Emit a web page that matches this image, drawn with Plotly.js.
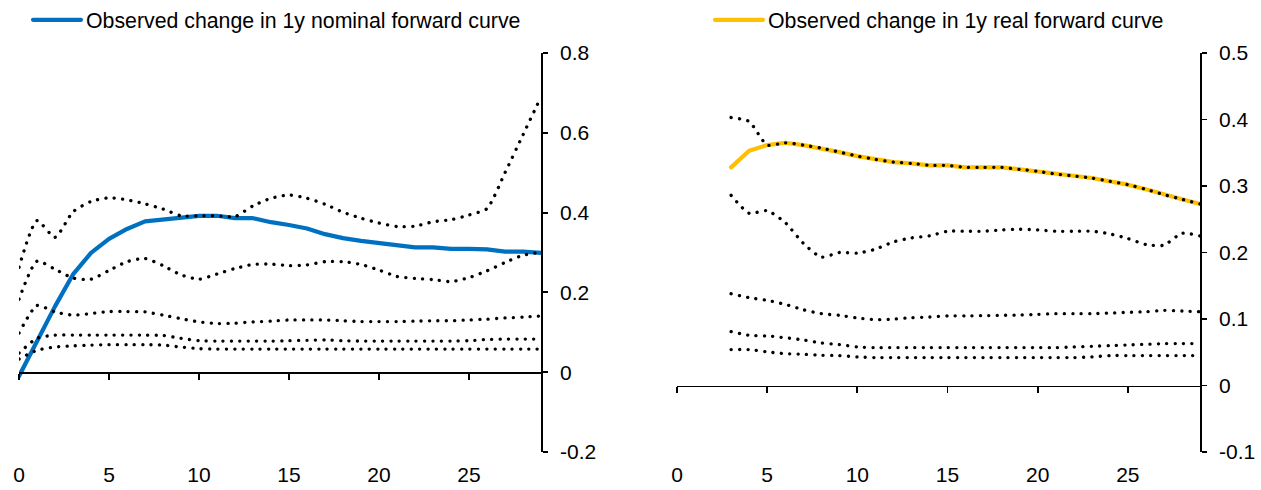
<!DOCTYPE html>
<html>
<head>
<meta charset="utf-8">
<script src="https://cdn.plot.ly/plotly-3.0.1.min.js"></script>
<style>
html,body{margin:0;padding:0;background:#fff;}
#chart{width:1261px;height:490px;}
path.js-line{stroke-linecap:round;stroke-linejoin:round;}
</style>
</head>
<body>
<div id="chart"></div>
<script>
// ---- Left panel: nominal forward curve (maturity 0..29) ----
const nomMaturity = [0,1,2,3,4,5,6,7,8,9,10,11,12,13,14,15,16,17,18,19,20,21,22,23,24,25,26,27,28,29];
const nomObserved = [-0.01,0.078,0.165,0.245,0.299,0.334,0.359,0.378,0.383,0.388,0.392,0.392,0.386,0.386,0.376,0.369,0.36,0.346,0.336,0.329,0.323,0.319,0.313,0.313,0.309,0.309,0.308,0.302,0.302,0.299];
const nomBand1 = [0.263,0.38,0.338,0.402,0.428,0.437,0.432,0.422,0.409,0.392,0.392,0.392,0.39,0.417,0.436,0.444,0.436,0.421,0.401,0.386,0.374,0.365,0.366,0.377,0.382,0.394,0.41,0.5,0.595,0.69];
const nomBand2 = [0.183,0.278,0.258,0.236,0.233,0.255,0.277,0.285,0.267,0.244,0.233,0.246,0.26,0.27,0.271,0.267,0.269,0.277,0.277,0.27,0.256,0.24,0.235,0.232,0.227,0.237,0.254,0.275,0.293,0.301];
const nomBand3 = [0.098,0.167,0.151,0.143,0.147,0.152,0.152,0.151,0.143,0.134,0.126,0.122,0.123,0.126,0.128,0.131,0.131,0.131,0.129,0.127,0.127,0.127,0.128,0.129,0.129,0.131,0.133,0.136,0.138,0.141];
const nomBand4 = [0.048,0.085,0.093,0.093,0.093,0.093,0.093,0.093,0.092,0.085,0.079,0.078,0.078,0.078,0.078,0.079,0.08,0.081,0.079,0.078,0.078,0.078,0.078,0.078,0.078,0.079,0.082,0.083,0.083,0.083];
const nomBand5 = [0.033,0.055,0.063,0.066,0.068,0.069,0.069,0.069,0.068,0.063,0.059,0.058,0.058,0.058,0.058,0.058,0.058,0.058,0.058,0.058,0.058,0.058,0.058,0.058,0.058,0.058,0.058,0.058,0.058,0.058];

// ---- Right panel: real forward curve (maturity 3..29) ----
const realMaturity = [3,4,5,6,7,8,9,10,11,12,13,14,15,16,17,18,19,20,21,22,23,24,25,26,27,28,29];
const realObserved = [0.328,0.353,0.3615,0.365,0.3615,0.357,0.351,0.345,0.340,0.336,0.334,0.331,0.331,0.328,0.328,0.328,0.325,0.322,0.318,0.315,0.312,0.307,0.302,0.295,0.287,0.280,0.273];
const realBand1 = [0.403,0.397,0.3615,0.365,0.3615,0.357,0.351,0.345,0.340,0.336,0.334,0.331,0.331,0.328,0.328,0.328,0.325,0.322,0.318,0.315,0.312,0.307,0.302,0.295,0.287,0.280,0.273];
const realBand2 = [0.286,0.259,0.263,0.245,0.214,0.193,0.2,0.199,0.205,0.216,0.222,0.225,0.232,0.232,0.232,0.234,0.235,0.234,0.232,0.232,0.232,0.228,0.221,0.212,0.211,0.229,0.225];
const realBand3 = [0.138,0.132,0.128,0.122,0.114,0.108,0.1055,0.1015,0.099,0.0998,0.102,0.103,0.1047,0.1047,0.105,0.1055,0.106,0.107,0.108,0.108,0.108,0.109,0.11,0.111,0.113,0.112,0.111];
const realBand4 = [0.081,0.0755,0.0745,0.0718,0.0685,0.064,0.0615,0.058,0.057,0.057,0.057,0.057,0.057,0.057,0.057,0.057,0.057,0.057,0.057,0.058,0.059,0.06,0.061,0.062,0.063,0.063,0.063];
const realBand5 = [0.054,0.054,0.0505,0.048,0.047,0.0455,0.045,0.043,0.042,0.042,0.042,0.042,0.042,0.042,0.042,0.042,0.042,0.042,0.042,0.042,0.043,0.045,0.045,0.045,0.045,0.045,0.045];

// ---- Tick labels ----
const xTickVals = [0,5,10,15,20,25];
const xTickText = ['0','5','10','15','20','25'];
const nomYTickVals = [-0.2,0,0.2,0.4,0.6,0.8];
const nomYTickText = ['-0.2','0','0.2','0.4','0.6','0.8'];
const realYTickVals = [-0.1,0,0.1,0.2,0.3,0.4,0.5];
const realYTickText = ['-0.1','0','0.1','0.2','0.3','0.4','0.5'];

const nomName = 'Observed change in 1y nominal forward curve';
const realName = 'Observed change in 1y real forward curve';

const FONT = 'Liberation Sans, Arial, sans-serif';
const FS = 21;
const LFS = 21.3;
const dotLine = {color:'#000', width:3.3, dash:'0.1px,8.3px', shape:'spline', smoothing:0.6};

function band(x, y, xa, ya){
  return {x:x, y:y, xaxis:xa, yaxis:ya, type:'scatter', mode:'lines', line:dotLine, showlegend:false, hoverinfo:'skip'};
}
// empty carrier traces so the zero-crossing axes get a subplot and are drawn
function carrier(xa, ya){
  return {x:[], y:[], xaxis:xa, yaxis:ya, type:'scatter', mode:'lines', showlegend:false, hoverinfo:'skip'};
}

const traces = [
  {x:nomMaturity, y:nomObserved, xaxis:'x', yaxis:'y', type:'scatter', mode:'lines', name:nomName,
   line:{color:'#0070C0', width:4.2}, legend:'legend'},
  band(nomMaturity, nomBand1, 'x', 'y'),
  band(nomMaturity, nomBand2, 'x', 'y'),
  band(nomMaturity, nomBand3, 'x', 'y'),
  band(nomMaturity, nomBand4, 'x', 'y'),
  band(nomMaturity, nomBand5, 'x', 'y'),
  {x:realMaturity, y:realObserved, xaxis:'x2', yaxis:'y2', type:'scatter', mode:'lines', name:realName,
   line:{color:'#FFC000', width:4.2}, legend:'legend2'},
  band(realMaturity, realBand1, 'x2', 'y2'),
  band(realMaturity, realBand2, 'x2', 'y2'),
  band(realMaturity, realBand3, 'x2', 'y2'),
  band(realMaturity, realBand4, 'x2', 'y2'),
  band(realMaturity, realBand5, 'x2', 'y2'),
  carrier('x3', 'y'),
  carrier('x4', 'y2')
];

const W = 1261;
const domL = [19/W, 541/W];
const domR = [677/W, 1200/W];

function bottomAxis(dom, anchor){
  return {domain:dom, anchor:anchor, range:[0,29], showline:false, ticks:'', showgrid:false, zeroline:false,
    tickvals:xTickVals, ticktext:xTickText, ticklabelstandoff:8, tickangle:0, automargin:false,
    tickfont:{family:FONT, size:FS, color:'#000'}};
}
function zeroAxis(dom, over, pos){
  return {domain:dom, overlaying:over, anchor:'free', position:pos, range:[0,29], showline:true, linecolor:'#000', linewidth:1.8,
    ticks:'outside', ticklen:6, tickwidth:1.8, tickcolor:'#000', tickvals:xTickVals, showticklabels:false,
    showgrid:false, zeroline:false, automargin:false};
}
function rightAxis(anchor, range, vals, text){
  return {anchor:anchor, side:'right', range:range, showline:true, linecolor:'#000', linewidth:1.8,
    ticks:'outside', ticklen:5, tickwidth:1.8, tickcolor:'#000', tickvals:vals, ticktext:text,
    ticklabelstandoff:8, showgrid:false, zeroline:false, domain:[0,1], automargin:false,
    tickfont:{family:FONT, size:FS, color:'#000'}};
}

const layout = {
  width:1261, height:490,
  margin:{l:0, r:0, t:53, b:38, autoexpand:false},
  paper_bgcolor:'#fff', plot_bgcolor:'rgba(0,0,0,0)',
  font:{family:FONT, size:FS, color:'#000'},
  xaxis: bottomAxis(domL, 'y'),
  xaxis2: bottomAxis(domR, 'y2'),
  xaxis3: zeroAxis(domL, 'x', 0.2),
  xaxis4: zeroAxis(domR, 'x2', 1/6),
  yaxis: rightAxis('x', [-0.2,0.8], nomYTickVals, nomYTickText),
  yaxis2: rightAxis('x2', [-0.1,0.5], realYTickVals, realYTickText),
  legend:{x:28/W, xref:'container', y:1-20/490, yref:'container', xanchor:'left', yanchor:'middle',
    bgcolor:'rgba(0,0,0,0)', borderwidth:0, itemwidth:48, font:{family:FONT, size:LFS, color:'#000'}},
  legend2:{x:710/W, xref:'container', y:1-20/490, yref:'container', xanchor:'left', yanchor:'middle',
    bgcolor:'rgba(0,0,0,0)', borderwidth:0, itemwidth:48, font:{family:FONT, size:LFS, color:'#000'}},
  showlegend:true
};

Plotly.newPlot('chart', traces, layout, {displayModeBar:false, staticPlot:true});
</script>
</body>
</html>
